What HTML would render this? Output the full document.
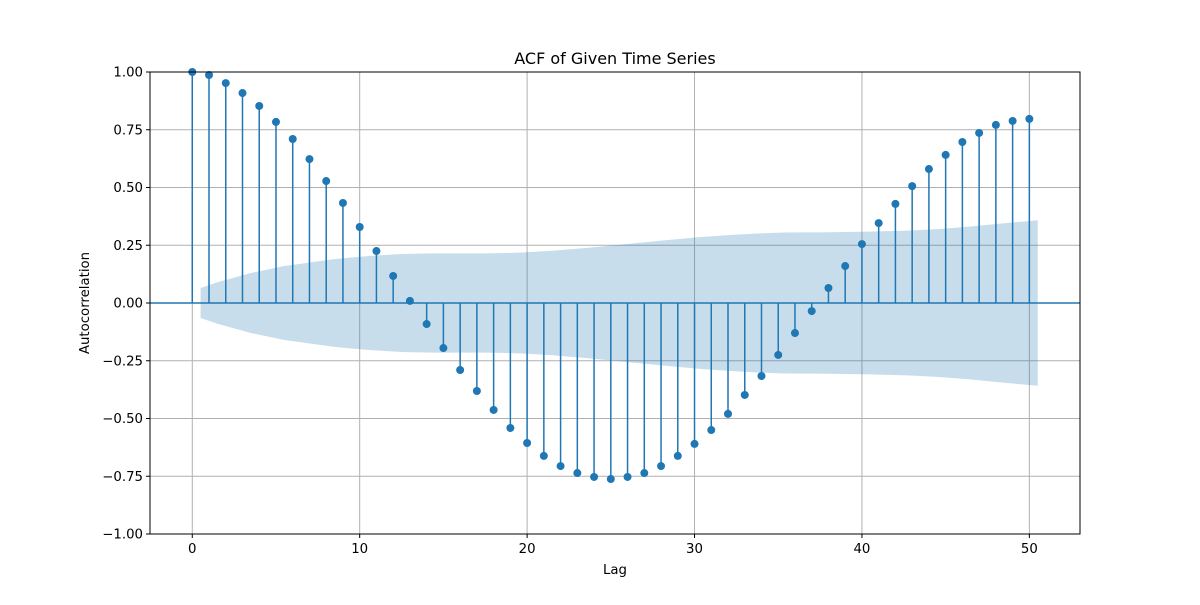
<!DOCTYPE html>
<html><head><meta charset="utf-8"><style>
html,body{margin:0;padding:0;background:#fff;}
svg{font-family:"DejaVu Sans","Liberation Sans",sans-serif;}
</style></head><body>
<svg id="chart" width="1200" height="600" xmlns="http://www.w3.org/2000/svg"></svg>
<script>
const lags=[0,1,2,3,4,5,6,7,8,9,10,11,12,13,14,15,16,17,18,19,20,21,22,23,24,25,26,27,28,29,30,31,32,33,34,35,36,37,38,39,40,41,42,43,44,45,46,47,48,49,50];
const acfValues=[1,0.987,0.952,0.909,0.853,0.784,0.71,0.623,0.528,0.433,0.329,0.225,0.117,0.009,-0.091,-0.195,-0.29,-0.381,-0.463,-0.541,-0.606,-0.662,-0.706,-0.736,-0.753,-0.762,-0.753,-0.736,-0.706,-0.662,-0.61,-0.55,-0.48,-0.398,-0.316,-0.225,-0.13,-0.035,0.065,0.16,0.255,0.346,0.429,0.506,0.58,0.641,0.697,0.736,0.771,0.788,0.797];
const confBand=[0.065,0.09,0.11,0.13,0.145,0.16,0.17,0.18,0.19,0.197,0.203,0.208,0.212,0.214,0.215,0.215,0.215,0.215,0.216,0.218,0.222,0.226,0.232,0.238,0.245,0.252,0.259,0.266,0.273,0.28,0.286,0.291,0.296,0.3,0.303,0.305,0.306,0.306,0.307,0.308,0.309,0.311,0.313,0.316,0.32,0.325,0.331,0.338,0.345,0.352,0.358];
const xTicks=[0,10,20,30,40,50];
const yTicks=[-1,-0.75,-0.5,-0.25,0,0.25,0.5,0.75,1];
const yTickLabels=["\u22121.00","\u22120.75","\u22120.50","\u22120.25","0.00","0.25","0.50","0.75","1.00"];

const L=150,R=1080,T=72,B=534,xmin=-2.525,xmax=53.025,ymin=-1,ymax=1;
const sx=v=>L+(v-xmin)/(xmax-xmin)*(R-L);
const sy=v=>B-(v-ymin)/(ymax-ymin)*(B-T);
const svg=document.getElementById('chart');
const NS='http://www.w3.org/2000/svg';
function mk(tag,attrs,parent){const e=document.createElementNS(NS,tag);for(const k in attrs)e.setAttribute(k,attrs[k]);(parent||svg).appendChild(e);return e;}

xTicks.forEach(t=>{const l=mk('line',{x1:sx(t),x2:sx(t),y1:T,y2:B,stroke:'#b0b0b0','stroke-width':1});

});
yTicks.forEach(t=>{const l=mk('line',{x1:L,x2:R,y1:sy(t),y2:sy(t),stroke:'#b0b0b0','stroke-width':1});

});

let up=[],dn=[];
lags.forEach((k,i)=>{up.push(sx(k+0.5)+','+sy(confBand[i]));dn.unshift(sx(k+0.5)+','+sy(-confBand[i]));});
const band=mk('polygon',{points:up.concat(dn).join(' '),fill:'#1f77b4','fill-opacity':0.25});



const z=mk('line',{x1:L,x2:R,y1:sy(0),y2:sy(0),stroke:'#1f77b4','stroke-width':1.5});



lags.forEach((k,i)=>{
const s=mk('line',{x1:sx(k),x2:sx(k),y1:sy(0),y2:sy(acfValues[i]),stroke:'#1f77b4','stroke-width':1.5});


const c=mk('circle',{cx:sx(k),cy:sy(acfValues[i]),r:4,fill:'#1f77b4'});


});

const fr=mk('rect',{x:L,y:T,width:R-L,height:B-T,fill:'none',stroke:'#000','stroke-width':1});



xTicks.forEach(t=>{
mk('line',{x1:sx(t),x2:sx(t),y1:B,y2:B+4,stroke:'#000'});
const tx=mk('text',{x:sx(t),y:B+19,'text-anchor':'middle','font-size':13.3,fill:'#000'});tx.textContent=t;


});
yTicks.forEach((t,i)=>{
mk('line',{x1:L-4,x2:L,y1:sy(t),y2:sy(t),stroke:'#000'});
const tx=mk('text',{x:L-7,y:sy(t)+4.5,'text-anchor':'end','font-size':13.3,fill:'#000'});tx.textContent=yTickLabels[i];


});

const ti=mk('text',{x:(L+R)/2,y:64,'text-anchor':'middle','font-size':16,fill:'#000'});ti.textContent='ACF of Given Time Series';


const xl=mk('text',{x:(L+R)/2,y:574,'text-anchor':'middle','font-size':13.3,fill:'#000'});xl.textContent='Lag';


const yl=mk('text',{x:89,y:303,'text-anchor':'middle','font-size':13.3,fill:'#000',transform:'rotate(-90 89 303)'});yl.textContent='Autocorrelation';


</script>
</body></html>
